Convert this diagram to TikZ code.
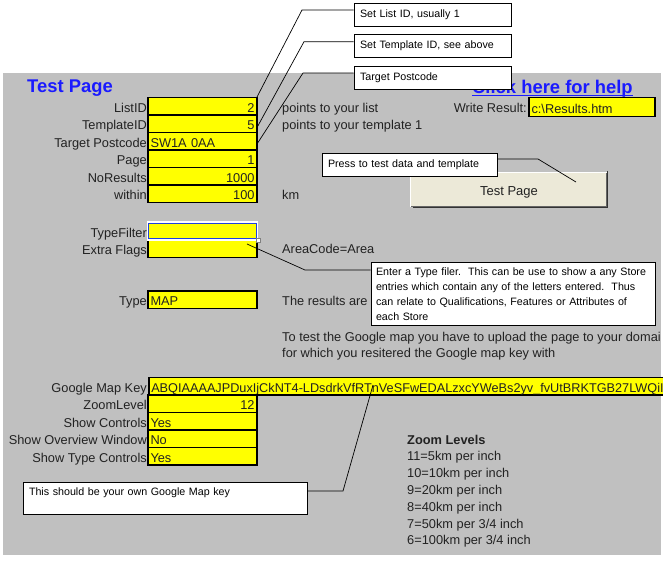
\documentclass[tikz,border=0pt]{standalone}
\usepackage{fontspec}
\setmainfont{Liberation Sans}
\usetikzlibrary{calc}
\definecolor{bg}{HTML}{C0C0C0}
\definecolor{fy}{HTML}{FFFF00}
\definecolor{lnk}{HTML}{1A1AFF}
\definecolor{btnc}{HTML}{ECE9D8}
\definecolor{txt}{HTML}{222222}
\definecolor{selb}{HTML}{2040E0}
\begin{document}
\begin{tikzpicture}[x=1pt,y=-1pt,
 rowtext/.style={font=\fontsize{12.8}{14}\selectfont, text=txt, text height=14.9pt, text depth=2pt},
 lab/.style={rowtext, anchor=east, inner xsep=0.5pt, inner ysep=0pt},
 note/.style={rowtext, anchor=west, inner sep=0pt},
 freetext/.style={anchor=base west, inner sep=0pt, font=\fontsize{12.8}{14}\selectfont, text=txt},
 fld/.style={rowtext, draw=black, line width=1.5pt, fill=fy, minimum height=17.5pt, inner xsep=2.5pt, inner ysep=0pt, text width=104pt},
 fr/.style={fld, align=right},
 fl/.style={fld, align=left},
 callout/.style={draw=black, line width=0.8pt, fill=white, inner xsep=6pt, inner ysep=0pt, font=\fontsize{10.7}{14.9}\selectfont, align=left},
 lead/.style={draw=black, line width=0.7pt},
 heading/.style={inner sep=0pt, font=\fontsize{18.4}{20}\selectfont\bfseries, text=lnk},
]
\useasboundingbox (0,0) rectangle (663,560);
\clip (0,0) rectangle (663,560);
\fill[bg] (3,73) rectangle (661,555);

% headings
\node[heading, anchor=base west] (title) at (27,92.5) {Test Page};
\node[heading, anchor=base west] (help) at (472,93) {Click here for help};
\draw[lnk, line width=1.3pt] ([yshift=-2.4pt]help.base west) -- ([yshift=-2.4pt]help.base east);

% labels
\node[lab] (l1) at (147.5,106) {ListID};
\node[lab] (l2) at (147.5,123.5) {TemplateID};
\node[lab] (l3) at (147.5,141) {Target Postcode};
\node[lab] (l4) at (147.5,158.5) {Page};
\node[lab] (l5) at (147.5,176) {NoResults};
\node[lab] (l6) at (147.5,193.5) {within};
\node[lab] (l7) at (147.5,231) {TypeFilter};
\node[lab] (l8) at (147.5,248.5) {Extra Flags};
\node[lab] (l9) at (147.5,299.5) {Type};
\node[lab] (l10) at (147.5,386) {Google Map Key};
\node[lab] (l11) at (147.5,403.5) {ZoomLevel};
\node[lab] (l12) at (147.5,421) {Show Controls};
\node[lab] (l13) at (147.5,438.5) {Show Overview Window};
\node[lab] (l14) at (147.5,456) {Show Type Controls};
\node[lab] (lw) at (527.5,106.5) {Write Result:};

% fields
\node[fr] (f1) at (202.5,106) {2};
\node[fr] (f2) at (202.5,123.5) {5};
\node[fl] (f3) at (202.5,141) {SW1A 0AA};
\node[fr] (f4) at (202.5,158.5) {1};
\node[fr] (f5) at (202.5,176) {1000};
\node[fr] (f6) at (202.5,193.5) {100};
\node[fl] (f8) at (202.5,248.5) {};
\node[fld, draw=white, line width=1.6pt] (f7) at (202.5,231) {};
\draw[selb, line width=1pt] ([xshift=1.6pt,yshift=-1.6pt]f7.north west) rectangle ([xshift=-1.6pt,yshift=1.6pt]f7.south east);
\draw[fill=white, draw=gray, line width=0.6pt] ([xshift=-2pt,yshift=2pt]f7.south east) rectangle ([xshift=2pt,yshift=-2pt]f7.south east);
\node[fl] (f9) at (202.5,299.5) {MAP};
\node[fl, anchor=west, text width=534pt] (f10) at (148,386) {\makebox[532pt][l]{\fontsize{12.7}{14}\selectfont ABQIAAAAJPDuxIjCkNT4-LDsdrkVfRTnVeSFwEDALzxcYWeBs2yv\_fvUtBRKTGB27LWQiI}};
\node[fr] (f11) at (202.5,403.5) {12};
\node[fl] (f12) at (202.5,421) {Yes};
\node[fl] (f13) at (202.5,438.5) {No};
\node[fl] (f14) at (202.5,456) {Yes};
\node[fl, text width=121pt, minimum height=19pt] (fw) at (592,107) {c:\textbackslash Results.htm};

% notes
\node[note] (n1) at (282,106) {points to your list};
\node[note] (n2) at (282,123.5) {points to your template 1};
\node[note] (n3) at (282,193.5) {km};
\node[note] (n4) at (282,247.5) {AreaCode=Area};
\node[note] (n5) at (282,299.5) {The results are};
\node[freetext] (n6) at (282,341) {To test the Google map you have to upload the page to your domai};
\node[freetext] (n7) at (282,357.5) {for which you resitered the Google map key with};
\node[freetext, font=\fontsize{12.8}{14}\selectfont\bfseries] (z0) at (407,444) {Zoom Levels};
\node[freetext] (z1) at (407,460.8) {11=5km per inch};
\node[freetext] (z2) at (407,477.6) {10=10km per inch};
\node[freetext] (z3) at (407,494.4) {9=20km per inch};
\node[freetext] (z4) at (407,511.2) {8=40km per inch};
\node[freetext] (z5) at (407,528) {7=50km per 3/4 inch};
\node[freetext] (z6) at (407,544.8) {6=100km per 3/4 inch};

% button
\node[fill=btnc, minimum width=196pt, minimum height=34pt, inner sep=0pt, font=\fontsize{13}{15}\selectfont, text=txt, text height=11.5pt, text depth=1.5pt] (btn) at (509,190) {Test Page};
\draw[white, line width=1pt] ([yshift=0.5pt]btn.south west) |- ([xshift=-0.5pt]btn.north east);
\draw[gray!80!black, line width=1.4pt] ([xshift=-0.7pt]btn.north east) |- ([yshift=0.7pt]btn.south west);
\draw[gray!40!black, line width=0.8pt] ([xshift=0.6pt,yshift=2pt]btn.north east) -- ([xshift=0.6pt,yshift=-0.6pt]btn.south east) -- ([xshift=2pt,yshift=-0.6pt]btn.south west);

% callouts
\node[callout, minimum width=157pt, minimum height=23pt, text width=145pt] (c1) at (432.5,14.5) {Set List ID, usually 1};
\node[callout, minimum width=157pt, minimum height=23pt, text width=145pt] (c2) at (432.5,45.5) {Set Template ID, see above};
\node[callout, minimum width=157pt, minimum height=23pt, text width=145pt] (c3) at (432.5,77.5) {Target Postcode};
\node[callout, minimum width=175pt, minimum height=23pt, text width=163pt] (cp) at (409.5,164.5) {Press to test data and template};
\node[callout, inner xsep=5pt, minimum width=284pt, minimum height=63pt, text width=274pt] (ct) at (513,294) {\mbox{Enter a Type filer.\ \ This can be use to show a any Store}\\\mbox{entries which contain any of the letters entered.\ \ Thus}\\\mbox{can relate to Qualifications, Features or Attributes of}\\\mbox{each Store}};
\node[callout, minimum width=284pt, minimum height=32pt, text width=272pt] (cg) at (165,498) {This should be your own Google Map key\\[-3pt]\mbox{}};

% leaders
\coordinate (k1) at (302,10);   \coordinate (e1) at (257,97);
\coordinate (k2) at (304,41.7); \coordinate (e2) at (257,127.5);
\coordinate (k3) at (303,73);   \coordinate (e3) at (257,144);
\coordinate (kp) at (538,159);  \coordinate (ep) at (576,182);
\coordinate (kt) at (305,270);  \coordinate (et) at (247,244);
\coordinate (kg) at (343,491);  \coordinate (eg) at (373,385);
\draw[lead] (c1.west |- k1) -- (k1) -- (e1);
\draw[lead] (c2.west |- k2) -- (k2) -- (e2);
\draw[lead] (c3.west |- k3) -- (k3) -- (e3);
\draw[lead] (cp.east |- kp) -- (kp) -- (ep);
\draw[lead] (ct.west |- kt) -- (kt) -- (et);
\draw[lead] (cg.east |- kg) -- (kg) -- (eg);
\end{tikzpicture}
\end{document}
